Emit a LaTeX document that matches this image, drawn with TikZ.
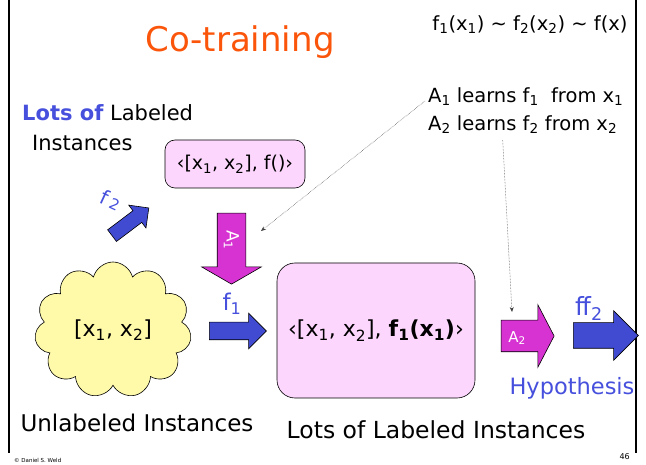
\documentclass[tikz,border=0pt]{standalone}
\usepackage{fontspec}
\setmainfont{DejaVu Sans}
\usepackage{tikz}
\usetikzlibrary{arrows.meta,calc,positioning,shapes.arrows,shapes.symbols}
\definecolor{TitleOrange}{RGB}{250,85,10}
\definecolor{SlideBlue}{RGB}{70,80,220}
\definecolor{ArrowBlue}{RGB}{65,75,210}
\definecolor{ArrowMagenta}{RGB}{215,50,210}
\definecolor{SoftPink}{RGB}{252,214,252}
\definecolor{SoftYellow}{RGB}{255,250,170}
\newcommand{\sbs}[1]{\textsubscript{#1}}

\begin{document}
\begin{tikzpicture}[x=1pt,y=-1pt,>=Stealth,
  blockarrow/.style={single arrow,draw=black,line width=0.6pt,inner xsep=0pt},
  pinkbox/.style={draw=black,line width=0.6pt,fill=SoftPink,rounded corners=#1},
  pointer/.style={-{Stealth[length=5pt,width=4pt]},densely dotted,line width=0.5pt,black!75}]
\useasboundingbox (0,0) rectangle (646,465);
% slide frame
\draw[line width=1.3pt] (9,0)--(9,453);
\draw[line width=1.3pt] (636,0)--(636,453);
% texts
\node[TitleOrange,font=\fontsize{34}{38}\selectfont] (title) at (240,42) {Co-training};
\node[font=\fontsize{19.5}{22}\selectfont] (same) at (530,25)
  {f\sbs{1}(x\sbs{1}) \textasciitilde{} f\sbs{2}(x\sbs{2}) \textasciitilde{} f(x)};
\node[anchor=west,inner sep=0pt,font=\fontsize{19.5}{22}\selectfont] (learnA) at (428,97)
  {A\sbs{1} learns f\sbs{1}\ \ from x\sbs{1}};
\node[anchor=west,inner sep=0pt,font=\fontsize{19.5}{22}\selectfont] (learnB) at (428,125)
  {A\sbs{2} learns f\sbs{2} from x\sbs{2}};
\node[anchor=west,inner sep=0pt,font=\fontsize{21}{24}\selectfont] (lotsA) at (22,113)
  {\textcolor{SlideBlue}{\bfseries Lots of} Labeled};
\node[anchor=west,inner sep=0pt,font=\fontsize{21}{24}\selectfont] (lotsB) at (32,143) {Instances};
% boxes
\node[pinkbox=10pt,minimum width=140pt,minimum height=48pt,inner xsep=2pt,font=\fontsize{19}{22}\selectfont]
  (labeled) at (235,164) {‹[x\sbs{1}, x\sbs{2}], f()›};
\node[pinkbox=18pt,minimum width=198pt,minimum height=135pt,inner xsep=2pt,font=\fontsize{22}{26}\selectfont]
  (pool) at (376,330.5) {‹[x\sbs{1}, x\sbs{2}], \textbf{f\sbs{1}(x\sbs{1})}›};
\node[cloud,cloud puffs=11,cloud ignores aspect,draw=black,line width=0.6pt,fill=SoftYellow,
  minimum width=157pt,minimum height=136pt,inner sep=0pt,font=\fontsize{22}{26}\selectfont]
  (pair) at (113,330) {[x\sbs{1}, x\sbs{2}]};
% block arrows
\node[blockarrow,fill=ArrowBlue,rotate=37,minimum height=46pt,inner ysep=7pt,
  single arrow head extend=7pt] (fB) at (127.5,224) {};
\node[SlideBlue,rotate=-25,inner sep=1pt,font=\fontsize{20}{22}\selectfont] (fBlab) at (111,200)
  {f\,\raisebox{-1pt}{\fontsize{15}{16}\selectfont 2}};
\node[blockarrow,fill=ArrowMagenta,rotate=-90,minimum height=71pt,inner ysep=14pt,
  single arrow head extend=15.5pt,single arrow tip angle=120] (aA) at (231.5,244.5) {};
\node[white,rotate=-90,font=\fontsize{17}{20}\selectfont] (aAlab) at (231.5,240) {A\sbs{1}};
\node[blockarrow,fill=ArrowBlue,minimum height=57pt,inner ysep=8.5pt,
  single arrow head extend=9pt] (fA) at (233.5,331) {};
\node[SlideBlue,font=\fontsize{23}{26}\selectfont] (fAlab) at (232,304) {f\sbs{1}};
\node[blockarrow,fill=ArrowMagenta,minimum height=53pt,inner ysep=15.5pt,
  single arrow head extend=15.5pt,single arrow tip angle=125] (aB) at (523.5,336) {};
\node[white,font=\fontsize{15}{18}\selectfont] (aBlab) at (517,338) {A\sbs{2}};
\node[blockarrow,fill=ArrowBlue,minimum height=65pt,inner ysep=12.5pt,
  single arrow head extend=12pt] (hyp) at (599.5,335.5) {};
\node[SlideBlue,anchor=base west,inner sep=0pt,font=\fontsize{25}{28}\selectfont] (hypA) at (575,316) {f};
\node[SlideBlue,anchor=base west,inner sep=0pt,font=\fontsize{25}{28}\selectfont] (hypB) at (582,316) {f\sbs{2}};
\node[SlideBlue,font=\fontsize{22.5}{26}\selectfont] (hypo) at (572,388) {Hypothesis};
% captions
\node[font=\fontsize{23}{26}\selectfont] (unl) at (137,423) {Unlabeled Instances};
\node[font=\fontsize{23.5}{26}\selectfont] (lab) at (436,430) {Lots of Labeled Instances};
\node[anchor=west,inner sep=0pt,font=\fontsize{5.5}{6}\selectfont] (copy) at (14,460) {© Daniel S. Weld};
\node[anchor=east,inner sep=0pt,font=\fontsize{8}{9}\selectfont] (page) at (630,457) {46};
% pointers
\coordinate (aAend) at (261,231);
\coordinate (aBend) at (512,312);
\draw[pointer] ($(learnA.west)+(-3,4)$) -- (aAend);
\draw[pointer] ($(learnB.south)+(-20,6)$) -- (aBend);
\end{tikzpicture}
\end{document}
